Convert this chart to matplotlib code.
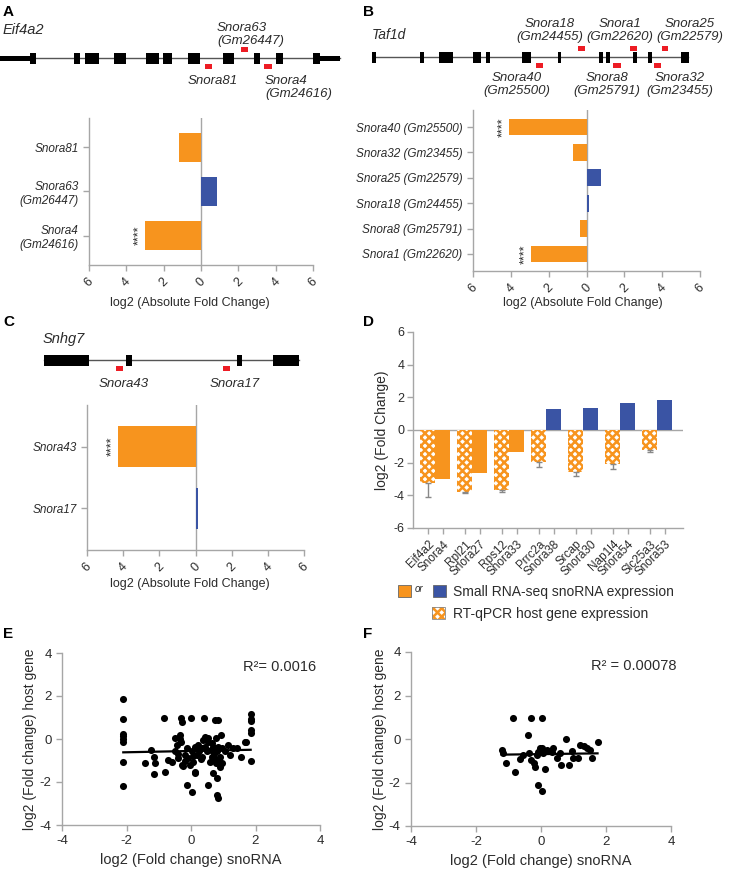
import numpy as np
import matplotlib
matplotlib.use("Agg")
import matplotlib.pyplot as plt
from matplotlib.patches import Rectangle

plt.rcParams["font.family"] = ["Liberation Sans", "DejaVu Sans"]
plt.rcParams["hatch.linewidth"] = 1.8
plt.rcParams["axes.unicode_minus"] = False

W, H = 732, 869
ORANGE = "#F7941E"
BLUE = "#3A54A4"
RED = "#ED1C24"
GREY = "#A6A6A6"
TXT = "#2b2b2b"

# ---------------- gene structures (position along drawn gene) ----------------
eif4a2_span = (0, 340)
eif4a2_utrs = [(0, 30), (318, 340)]
eif4a2_exons = [(30, 36), (74, 80), (85, 99), (114, 126), (146, 159), (163, 172),
                (188, 200), (223, 234), (254, 260), (276, 283), (313, 320)]
eif4a2_sno_pos = [(205, 212), (241, 248), (264, 272)]
eif4a2_sno_above = [False, True, False]

taf1d_span = (13, 328)
taf1d_exons = [(12, 16), (60, 64), (79, 93), (113, 121), (126, 130), (162, 171),
               (198, 201), (239, 243), (246, 250), (273, 277), (288, 292), (321, 329)]
taf1d_sno_pos = [(176, 183), (218, 225), (253, 261), (270, 277), (294, 301), (302, 308)]
taf1d_sno_above = [False, True, False, True, False, True]

snhg7_span = (44, 299)
snhg7_exons = [(44, 89), (126, 132), (237, 242), (273, 299)]
snhg7_sno_pos = [(116, 123), (223, 230)]
snhg7_sno_above = [False, False]

# ---------------- fold change bars ----------------
a_names = ["Snora81", "Snora63\n(Gm26447)", "Snora4\n(Gm24616)"]
a_values = [-1.18, 0.85, -3.0]
a_signif = ["", "", "****"]

b_names = ["Snora40 (Gm25500)", "Snora32 (Gm23455)", "Snora25 (Gm22579)",
           "Snora18 (Gm24455)", "Snora8 (Gm25791)", "Snora1 (Gm22620)"]
b_values = [-4.12, -0.72, 0.76, 0.14, -0.37, -2.93]
b_signif = ["****", "", "", "", "", "****"]

c_names = ["Snora43", "Snora17"]
c_values = [-4.3, 0.15]
c_signif = ["****", ""]

d_hosts = ["Eif4a2", "Rpl21", "Rps12", "Prrc2a", "Srcap", "Nap1l4", "Slc25a3"]
d_host_values = [-3.25, -3.78, -3.68, -1.94, -2.60, -2.09, -1.23]
d_host_err = [0.85, 0.07, 0.12, 0.33, 0.22, 0.30, 0.14]
d_snos = ["Snora4", "Snora27", "Snora33", "Snora38", "Snora30", "Snora54", "Snora53"]
d_sno_values = [-3.0, -2.66, -1.37, 1.27, 1.37, 1.68, 1.82]

# ---------------- scatter (all snoRNAs / validated) ----------------
e_x = [-2.1, -2.1, -2.1, -2.1, -2.1, -2.1, -2.1, -2.1,
       -1.42, -1.24, -1.16, -1.11, -1.16, -0.80, -0.85, -0.70,
       -0.49, -0.44, -0.49, -0.39, -0.31, -0.28, -0.34, -0.28,
       -0.13, -0.03, 0.00, -0.13, 0.02, 0.07, 0.11, 0.13,
       0.23, 0.33, 0.41, 0.44, 0.49, 0.54, 0.59, 0.64,
       0.64, 0.69, 0.75, 0.83, 0.77, 0.80, 0.77, 0.80,
       0.80, 0.85, 0.90, 0.93, 0.95, 0.85, 0.90, 1.06,
       1.16, 1.21, 1.31, 1.42, 1.55, 1.68, 1.85, 1.85,
       1.85, 1.85, 1.85, 1.85, 1.71,
       -0.59, -0.18, -0.08, 0.02, 0.18, 0.33, 0.44, 0.54,
       0.62, 0.69, 0.52, 0.38, -0.35, -0.30, -0.40, -0.20,
       0.05, 0.25, 0.70, 0.75, 0.85, 0.95, 0.30, -0.25, 0.13]
e_y = [1.88, 0.95, 0.25, 0.12, 0.02, -0.12, -1.09, -2.18,
       -1.10, -0.51, -0.82, -1.10, -1.64, -1.52, 0.97, -0.97,
       0.04, -0.27, -0.58, -0.89, 0.97, 0.78, 0.19, -1.20,
       -0.43, -1.20, 0.97, -2.14, -2.45, -1.05, -1.52, -0.35,
       -0.27, -0.43, 1.00, 0.11, -0.58, -2.14, -1.05, -0.19,
       -0.82, -1.59, 0.89, 0.89, 0.04, -0.58, -1.13, -1.82,
       -2.60, -2.76, -1.28, 0.19, -0.43, -0.35, -0.82, -0.58,
       -0.27, -0.74, -0.43, -0.43, -0.86, -0.12, 1.17, 0.94,
       0.82, 0.43, 0.27, -1.00, -0.12,
       -1.05, -0.74, -0.89, -0.58, -0.74, -0.82, -0.35, -0.12,
       -0.51, -0.35, 0.04, -0.04, 0.00, -0.15, -0.70, -1.00,
       -0.80, -0.55, -0.70, -0.95, -1.05, -1.10, -0.95, -1.25, -1.59]
e_fit = (0.03, -0.557)
e_r2 = "R²= 0.0016"

f_x = [-0.85, -0.30, 0.03, -0.41, -1.21, -1.18, -1.07, -0.79, -0.66, -0.56,
       -0.38, -0.31, -0.23, -0.18, -0.13, -0.08, -0.03, 0.03, 0.06, 0.13,
       0.18, -0.10, 0.03, 0.33, 0.36, 0.49, 0.59, 0.61, 0.78, 0.85,
       0.95, 0.97, 1.15, 1.19, 1.33, 1.41, 1.50, 1.57, 1.74]
f_y = [0.98, 0.98, 0.98, 0.18, -0.51, -0.63, -1.09, -1.52, -0.93, -0.75,
       -0.66, -0.97, -1.09, -1.27, -0.74, -0.58, -0.43, -0.40, -0.66, -1.39,
       -0.51, -2.12, -2.39, -0.58, -0.43, -0.89, -0.63, -1.20, 0.00, -1.20,
       -0.55, -0.86, -0.86, -0.28, -0.31, -0.43, -0.51, -0.86, -0.12]
f_fit = (0.02, -0.695)
f_r2 = "R² = 0.00078"


fig = plt.figure(figsize=(W / 100, H / 100), dpi=100)


def px_axes(left, top, right, bottom):
    return fig.add_axes([left / W, 1 - bottom / H, (right - left) / W, (bottom - top) / H])


def ftext(x, y, s, **kw):
    kw.setdefault("color", TXT)
    fig.text(x / W, 1 - y / H, s, **kw)


def gene_axes(left, top, right, bottom):
    ax = px_axes(left, top, right, bottom)
    ax.set_xlim(0, right - left)
    half = (bottom - top) / 2
    ax.set_ylim(half, -half)
    ax.axis("off")
    return ax


def draw_gene(ax, span, exons, sno_pos, sno_above, utrs=()):
    ax.plot(span, [0, 0], color="#555555", lw=1.0, zorder=1)
    for a, b in utrs:
        ax.add_patch(Rectangle((a, -2.5), b - a, 5, color="black", lw=0, zorder=2))
    for a, b in exons:
        ax.add_patch(Rectangle((a, -5.5), b - a, 11, color="black", lw=0, zorder=2))
    for (a, b), up in zip(sno_pos, sno_above):
        y0 = -11 if up else 6
        ax.add_patch(Rectangle((a, y0), b - a, 5, color=RED, lw=0, zorder=2))


def gene_label(ax, x, y, s, ha="center", va="top"):
    ax.text(x, y, s, ha=ha, va=va, fontsize=9.5, style="italic", color=TXT,
            linespacing=1.1)


def style_spines(ax):
    for s in ("top", "right"):
        ax.spines[s].set_visible(False)
    for s in ("left", "bottom"):
        ax.spines[s].set_color(GREY)
        ax.spines[s].set_linewidth(1.0)
    ax.tick_params(colors=GREY, labelcolor=TXT, length=4, width=1.0)


def fold_bars(rect, names, values, signif, label_pos):
    ax = px_axes(*rect)
    y = np.arange(len(names))
    colors = [ORANGE if v < 0 else BLUE for v in values]
    ax.barh(y, values, height=0.66, color=colors, zorder=2)
    ax.axvline(0, color=GREY, lw=1.0, zorder=1)
    for yi, v, s in zip(y, values, signif):
        if s:
            ax.text(v - 0.3, yi, s, rotation=90, ha="center", va="center",
                    fontsize=9, color=TXT)
    ax.set_xlim(-6, 6)
    ax.set_ylim(len(names) - 1 + 0.67, -0.67)
    ticks = np.arange(-6, 7, 2)
    ax.set_xticks(ticks)
    ax.set_xticklabels([str(abs(t)) for t in ticks], rotation=45, fontsize=9)
    ax.set_yticks(y)
    ax.set_yticklabels(names, style="italic", fontsize=8.5)
    style_spines(ax)
    ax.set_xlabel("log2 (Absolute Fold Change)", fontsize=9, color=TXT)
    ax.xaxis.set_label_coords(*label_pos)
    return ax


# ---------------- panel A ----------------
ftext(3, 12, "A", fontsize=11, fontweight="bold", va="center", color="black")
ftext(3, 30, "Eif4a2", fontsize=10.5, style="italic", va="center")
ga = gene_axes(0, 8, 345, 108)
draw_gene(ga, eif4a2_span, eif4a2_exons, eif4a2_sno_pos, eif4a2_sno_above, eif4a2_utrs)
gene_label(ga, 217, -11, "Snora63\n(Gm26447)", ha="left", va="bottom")
gene_label(ga, 213, 17, "Snora81")
gene_label(ga, 265, 17, "Snora4\n(Gm24616)", ha="left")
fold_bars((89, 118, 313, 265), a_names, a_values, a_signif, (0.45, -0.22))

# ---------------- panel B ----------------
ftext(363, 12, "B", fontsize=11, fontweight="bold", va="center", color="black")
ftext(372, 35, "Taf1d", fontsize=10, style="italic", va="center")
gb = gene_axes(360, 7, 732, 107)
draw_gene(gb, taf1d_span, taf1d_exons, taf1d_sno_pos, taf1d_sno_above)
for x, s in [(190, "Snora18\n(Gm24455)"), (260, "Snora1\n(Gm22620)"), (330, "Snora25\n(Gm22579)")]:
    gene_label(gb, x, -14, s, va="bottom")
for x, s in [(157, "Snora40\n(Gm25500)"), (247, "Snora8\n(Gm25791)"), (320, "Snora32\n(Gm23455)")]:
    gene_label(gb, x, 15, s)
fold_bars((473, 110, 700, 271), b_names, b_values, b_signif, (0.485, -0.16))

# ---------------- panel C ----------------
ftext(3, 322, "C", fontsize=11, fontweight="bold", va="center", color="black")
ftext(43, 339, "Snhg7", fontsize=10.5, style="italic", va="center")
gc = gene_axes(0, 310, 345, 410)
draw_gene(gc, snhg7_span, snhg7_exons, snhg7_sno_pos, snhg7_sno_above)
gene_label(gc, 124, 18, "Snora43")
gene_label(gc, 235, 18, "Snora17")
fold_bars((87, 405, 304, 550), c_names, c_values, c_signif, (0.475, -0.19))

# ---------------- panel D ----------------
ftext(363, 322, "D", fontsize=11, fontweight="bold", va="center", color="black")
ad = px_axes(413, 332, 683, 528)
gx = np.arange(len(d_hosts))
ad.bar(gx - 0.2, d_host_values, 0.4, facecolor="white", edgecolor=ORANGE,
       hatch="xxxx", lw=0, zorder=2,
       yerr=[d_host_err, np.zeros(len(d_host_err))],
       error_kw=dict(ecolor="#888888", elinewidth=1, capsize=2, capthick=1))
ad.bar(gx + 0.2, d_sno_values, 0.4,
       color=[ORANGE if v < 0 else BLUE for v in d_sno_values], zorder=2)
ad.axhline(0, color=GREY, lw=1.0, zorder=1)
ad.set_xlim(-0.6, 6.7)
ad.set_ylim(-6, 6)
ad.set_yticks(np.arange(-6, 7, 2))
tick_x = np.ravel(np.column_stack([gx - 0.2, gx + 0.2]))
tick_lab = np.ravel(np.column_stack([d_hosts, d_snos]))
ad.set_xticks(tick_x)
ad.set_xticklabels(tick_lab, rotation=45, ha="right", rotation_mode="anchor", fontsize=8.5)
style_spines(ad)
ad.tick_params(axis="y", labelsize=9, pad=2)
ad.set_ylabel("log2 (Fold Change)", fontsize=10, color=TXT)
ad.yaxis.set_label_coords(-0.088, 0.5)

# legend for D drawn in figure pixels
ov = px_axes(0, 0, W, H)
ov.set_xlim(0, W)
ov.set_ylim(H, 0)
ov.axis("off")
ov.add_patch(Rectangle((398, 585), 13, 12, facecolor=ORANGE, edgecolor="#666666", lw=0.6))
ov.text(415, 589, "or", fontsize=7, style="italic", va="center", color=TXT)
ov.add_patch(Rectangle((433, 585), 13, 12, facecolor=BLUE, edgecolor="#666666", lw=0.6))
ov.text(453, 592, "Small RNA-seq snoRNA expression", fontsize=10, va="center", color=TXT)
ov.add_patch(Rectangle((432, 607), 13, 12, facecolor="white", edgecolor=ORANGE, hatch="xxxx", lw=0))
ov.add_patch(Rectangle((432, 607), 13, 12, facecolor="none", edgecolor="#888888", lw=0.6))
ov.text(453, 614, "RT-qPCR host gene expression", fontsize=10, va="center", color=TXT)


# ---------------- panels E, F ----------------
def scatter_panel(rect, xs, ys, fit, r2, r2_pos, ylab_x):
    ax = px_axes(*rect)
    ax.scatter(xs, ys, s=26, color="black", lw=0, zorder=3)
    lx = np.array([min(xs), max(xs)])
    ax.plot(lx, fit[0] * lx + fit[1], color="black", lw=1.6, zorder=4)
    ax.set_xlim(-4, 4)
    ax.set_ylim(-4, 4)
    ax.set_xticks([-4, -2, 0, 2, 4])
    ax.set_yticks([-4, -2, 0, 2, 4])
    style_spines(ax)
    ax.tick_params(labelsize=9.5)
    ax.set_xlabel("log2 (Fold change) snoRNA", fontsize=10.5, color=TXT)
    ax.set_ylabel("log2 (Fold change) host gene", fontsize=10, color=TXT)
    ax.yaxis.set_label_coords(ylab_x, 0.5)
    ax.text(*r2_pos, r2, transform=ax.transAxes, ha="right", va="center",
            fontsize=10.5, color=TXT)
    return ax


ftext(3, 634, "E", fontsize=11, fontweight="bold", va="center", color="black")
scatter_panel((62, 653, 320, 825), e_x, e_y, e_fit, e_r2, (0.985, 0.92), -0.097)
ftext(363, 634, "F", fontsize=11, fontweight="bold", va="center", color="black")
scatter_panel((411, 652, 671, 826), f_x, f_y, f_fit, f_r2, (1.02, 0.92), -0.092)

fig.savefig("out.png", dpi=100)
